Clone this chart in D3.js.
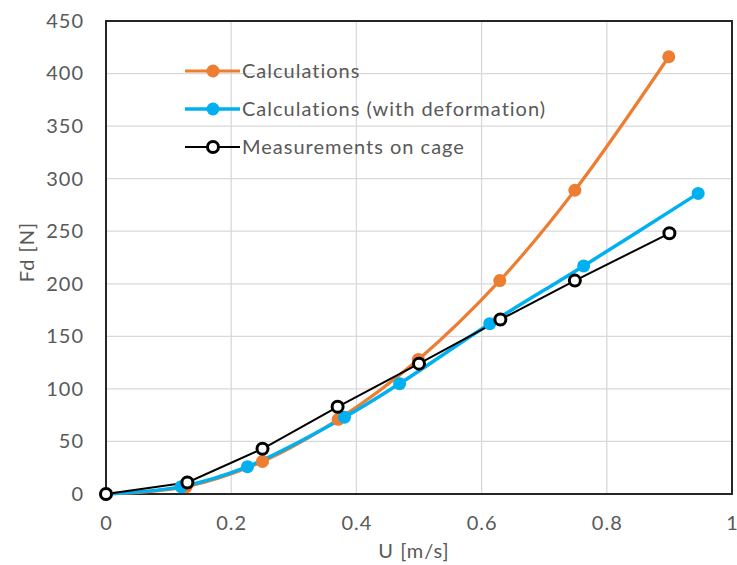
<!DOCTYPE html>
<html>
<head>
<meta charset="utf-8">
<script src="https://cdn.jsdelivr.net/npm/d3@7"></script>
<style>
  html, body { margin: 0; background: #fff; overflow: hidden; }
  svg { display: block; }
  text { font-family: Lato, "Open Sans", sans-serif; fill: #595959; letter-spacing: 1px; }
</style>
</head>
<body>
<div id="chart-area"><svg></svg></div>
<script>
// Data
const calcU = [0, 0.128, 0.25, 0.371, 0.499, 0.629, 0.749, 0.899];
const calcFd = [0, 7, 31, 71, 128, 203, 289, 416];
const deformU = [0, 0.12, 0.226, 0.381, 0.469, 0.613, 0.763, 0.946];
const deformFd = [0, 7, 26, 73, 105, 162, 217, 286];
const measU = [0, 0.13, 0.25, 0.37, 0.5, 0.63, 0.749, 0.9];
const measFd = [0, 11, 43, 83, 124, 166, 203, 248];
const seriesNames = ["Calculations", "Calculations (with deformation)", "Measurements on cage"];
const xTicks = [0, 0.2, 0.4, 0.6, 0.8, 1];
const yTicks = [0, 50, 100, 150, 200, 250, 300, 350, 400, 450];

const width = 737, height = 565;
const svg = d3.select("#chart-area").select("svg")
    .attr("width", width).attr("height", height);

// Margin Convention
const margin = { top: 21, right: 5, bottom: 71, left: 106 };
const innerWidth = 732 - margin.left;
const innerHeight = height - margin.top - margin.bottom;
const g = svg.append("g").attr("transform", `translate(${margin.left},${margin.top})`);

const x = d3.scaleLinear().domain([0, 1]).range([0, innerWidth]);
const y = d3.scaleLinear().domain([0, 450]).range([innerHeight, 0]);

// Gridlines
g.selectAll(".hgrid").data(yTicks).enter().append("line")
    .attr("x1", 0).attr("x2", innerWidth)
    .attr("y1", d => y(d)).attr("y2", d => y(d))
    .attr("stroke", "#d9d9d9").attr("stroke-width", 1.3);
g.selectAll(".vgrid").data(xTicks).enter().append("line")
    .attr("y1", 0).attr("y2", innerHeight)
    .attr("x1", d => x(d)).attr("x2", d => x(d))
    .attr("stroke", "#d9d9d9").attr("stroke-width", 1.3);

// Border box
g.append("rect").attr("width", innerWidth).attr("height", innerHeight)
    .attr("fill", "none").attr("stroke", "#262626").attr("stroke-width", 2);

// Axes
const xAxis = g.append("g").attr("transform", `translate(0,${innerHeight})`)
    .call(d3.axisBottom(x).tickValues(xTicks).tickSize(0).tickPadding(22).tickFormat(d3.format("")));
const yAxis = g.append("g")
    .call(d3.axisLeft(y).tickValues(yTicks).tickSize(0).tickPadding(22));
[xAxis, yAxis].forEach(a => {
    a.select(".domain").remove();
    a.selectAll("text").style("font-size", "20px").attr("fill", "#595959")
        .style("font-family", "Lato, 'Open Sans', sans-serif");
});

// Axis titles
svg.append("text").attr("x", 414).attr("y", 558)
    .attr("text-anchor", "middle").style("font-size", "20px").text("U [m/s]");
svg.append("text").attr("transform", "translate(27,252) rotate(-90)")
    .attr("text-anchor", "middle").attr("dy", "0.35em").style("font-size", "20px").text("Fd [N]");

const series = [
    { name: seriesNames[0], xs: calcU, ys: calcFd, color: "#ed7d31", w: 3.2, curve: d3.curveCatmullRom, open: false },
    { name: seriesNames[1], xs: deformU, ys: deformFd, color: "#00b0f0", w: 3.5, curve: d3.curveCatmullRom, open: false },
    { name: seriesNames[2], xs: measU, ys: measFd, color: "#000000", w: 2, curve: d3.curveLinear, open: true }
];

series.forEach(s => {
    const pts = s.xs.map((v, i) => [v, s.ys[i]]);
    g.append("path").datum(pts)
        .attr("fill", "none").attr("stroke", s.color).attr("stroke-width", s.w)
        .attr("d", d3.line().x(d => x(d[0])).y(d => y(d[1])).curve(s.curve));
});
series.forEach(s => {
    const pts = s.xs.map((v, i) => [v, s.ys[i]]);
    g.selectAll(null).data(pts).enter().append("circle")
        .attr("cx", d => x(d[0])).attr("cy", d => y(d[1]))
        .attr("r", s.open ? 5.5 : 6.5)
        .attr("fill", s.open ? "#fff" : s.color)
        .attr("stroke", s.open ? "#000" : "none")
        .attr("stroke-width", 3);
});

// Legend
const legend = svg.append("g").attr("transform", "translate(185,71)");
series.forEach((s, i) => {
    const row = legend.append("g").attr("transform", `translate(0,${i * 38})`);
    row.append("line").attr("x1", 0).attr("x2", 55).attr("y1", 0).attr("y2", 0)
        .attr("stroke", s.color).attr("stroke-width", s.w);
    row.append("circle").attr("cx", 28).attr("cy", 0)
        .attr("r", s.open ? 5.5 : 6.5)
        .attr("fill", s.open ? "#fff" : s.color)
        .attr("stroke", s.open ? "#000" : "none").attr("stroke-width", 3);
    row.append("text").attr("x", 57).attr("y", 0).attr("dy", "0.35em")
        .style("font-size", "20px").text(s.name);
});
</script>
</body>
</html>
